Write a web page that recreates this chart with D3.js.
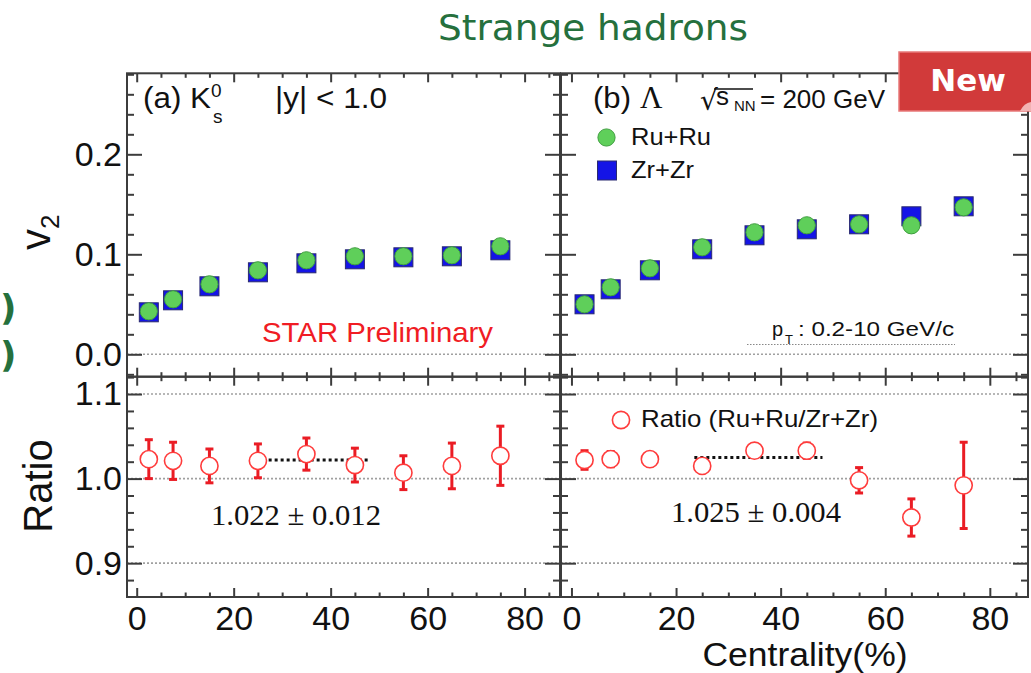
<!DOCTYPE html>
<html><head><meta charset="utf-8">
<script src="https://cdn.jsdelivr.net/npm/d3@7"></script>
<style>body{margin:0;background:#fff}svg{display:block}</style>
</head><body><svg id="c" width="1031" height="673" font-family="Liberation Sans, Arial, sans-serif"></svg>
<script>
// ---------------- data ----------------
const centrality = [2.5, 7.5, 15, 25, 35, 45, 55, 65, 75];
const k0sRuRu = [0.043, 0.055, 0.070, 0.084, 0.094, 0.098, 0.098, 0.099, 0.108];
const k0sZrZr = [0.042, 0.054, 0.068, 0.082, 0.091, 0.095, 0.097, 0.098, 0.104];
const k0sRatio = [1.023, 1.021, 1.015, 1.021, 1.029, 1.016, 1.007, 1.015, 1.027];
const k0sRatioErr = [0.023, 0.022, 0.020, 0.020, 0.019, 0.020, 0.020, 0.027, 0.035];
const lamRuRu = [0.050, 0.067, 0.086, 0.107, 0.122, 0.129, 0.130, 0.129, 0.147];
const lamZrZr = [0.050, 0.065, 0.084, 0.105, 0.119, 0.125, 0.130, 0.138, 0.148];
const lamRatio = [1.022, 1.023, 1.023, 1.015, 1.033, 1.033, 0.998, 0.954, 0.992];
const lamRatioErr = [0.011, 0.009, 0.004, 0.004, 0.004, 0.009, 0.015, 0.022, 0.051];
const fitValue = [1.022, 1.025];
const fitText = ["1.022 \u00B1 0.012", "1.025 \u00B1 0.004"];
const fitRange = [23.5, 48];
const xMajorTicks = [0, 20, 40, 60, 80];
const xMinorTicks = [5, 10, 15, 25, 30, 35, 45, 50, 55, 65, 70, 75, 85];
const v2MajorTicks = [0, 0.1, 0.2];
const v2MinorTicks = [-0.02, 0.02, 0.04, 0.06, 0.08, 0.12, 0.14, 0.16, 0.18, 0.22, 0.24, 0.26, 0.28];
const ratioMajorTicks = [0.9, 1.0, 1.1];
const ratioMinorTicks = [0.88, 0.92, 0.94, 0.96, 0.98, 1.02, 1.04, 1.06, 1.08, 1.12];
const ratioGrid = [0.9, 1.0, 1.1];

// ---------------- layout ----------------
const svg = d3.select("#c");
const frameColor = "#3c3c3c";
const xA = d3.scaleLinear().domain([-2, 87.3]).range([127, 560]);
const xB = d3.scaleLinear().domain([-2, 87.3]).range([561, 1028]);
const yV = d3.scaleLinear().domain([-0.0224, 0.281]).range([376.7, 73.3]);
const yR = d3.scaleLinear().domain([0.86, 1.1205]).range([597, 376.7]);

const panels = [
  {x: xA, ru: k0sRuRu, zr: k0sZrZr, r: k0sRatio, re: k0sRatioErr, labels: true, fit: 0},
  {x: xB, ru: lamRuRu, zr: lamZrZr, r: lamRatio, re: lamRatioErr, labels: false, fit: 1}
];

function styleAxis(g, fs) {
  g.select(".domain").remove();
  g.selectAll(".tick line").attr("stroke", frameColor).attr("stroke-width", 2);
  g.selectAll(".tick text").attr("font-size", fs || 33).attr("fill", "#111")
    .attr("font-family", "Liberation Sans, Arial, sans-serif");
}

panels.forEach(p => {
  const x = p.x, x0 = x.range()[0], x1 = x.range()[1];
  // grid lines
  svg.append("line").attr("x1", x0).attr("x2", x1).attr("y1", yV(0)).attr("y2", yV(0))
    .attr("stroke", "#a0a0a0").attr("stroke-width", 1.6).attr("stroke-dasharray", "2,2");
  ratioGrid.forEach(v => svg.append("line").attr("x1", x0).attr("x2", x1).attr("y1", yR(v)).attr("y2", yR(v))
    .attr("stroke", "#a0a0a0").attr("stroke-width", 1.6).attr("stroke-dasharray", "2,2"));

  // x axes (ticks inward)
  const xAxes = [
    {y: yV.range()[1], gen: d3.axisTop}, {y: yV.range()[0], gen: d3.axisBottom},
    {y: yR.range()[1], gen: d3.axisTop}, {y: yR.range()[0], gen: d3.axisBottom, labels: true}
  ];
  xAxes.forEach(a => {
    const gM = svg.append("g").attr("transform", `translate(0,${a.y})`)
      .call(a.gen(x).tickValues(xMajorTicks).tickSize(-9).tickPadding(9).tickFormat(a.labels ? d3.format("d") : ""));
    styleAxis(gM, 34);
    const gm = svg.append("g").attr("transform", `translate(0,${a.y})`)
      .call(a.gen(x).tickValues(xMinorTicks).tickSize(-4.5).tickFormat(""));
    styleAxis(gm);
  });

  // y axes
  [[yV, v2MajorTicks, v2MinorTicks, d3.format(".1f")], [yR, ratioMajorTicks, ratioMinorTicks, d3.format(".1f")]].forEach(([y, maj, mn, f]) => {
    const gl = svg.append("g").attr("transform", `translate(${x0},0)`)
      .call(d3.axisLeft(y).tickValues(maj).tickSize(-15).tickPadding(5).tickFormat(p.labels ? f : ""));
    styleAxis(gl, 34);
    styleAxis(svg.append("g").attr("transform", `translate(${x0},0)`)
      .call(d3.axisLeft(y).tickValues(mn).tickSize(-7).tickFormat("")));
    styleAxis(svg.append("g").attr("transform", `translate(${x1},0)`)
      .call(d3.axisRight(y).tickValues(maj).tickSize(-15).tickFormat("")));
    styleAxis(svg.append("g").attr("transform", `translate(${x1},0)`)
      .call(d3.axisRight(y).tickValues(mn).tickSize(-7).tickFormat("")));
  });

  // frames
  svg.append("rect").attr("x", x0).attr("y", yV.range()[1]).attr("width", x1 - x0)
    .attr("height", yV.range()[0] - yV.range()[1]).attr("fill", "none").attr("stroke", frameColor).attr("stroke-width", 2);
  svg.append("rect").attr("x", x0).attr("y", yR.range()[1]).attr("width", x1 - x0)
    .attr("height", yR.range()[0] - yR.range()[1]).attr("fill", "none").attr("stroke", frameColor).attr("stroke-width", 2);

  // v2 markers: Zr+Zr squares then Ru+Ru circles
  const sq = 19;
  svg.append("g").selectAll("rect").data(centrality).join("rect")
    .attr("x", (d) => x(d) - sq / 2).attr("y", (d, i) => yV(p.zr[i]) - sq / 2)
    .attr("width", sq).attr("height", sq).attr("fill", "#1414e6").attr("stroke", "#2a2a70").attr("stroke-width", 1);
  svg.append("g").selectAll("circle").data(centrality).join("circle")
    .attr("cx", d => x(d)).attr("cy", (d, i) => yV(p.ru[i])).attr("r", 8.6)
    .attr("fill", "#5fcf5a").attr("stroke", "#3e9e3e").attr("stroke-width", 1);

  // ratio fit line
  svg.append("line").attr("x1", x(fitRange[0])).attr("x2", x(fitRange[1]))
    .attr("y1", yR(fitValue[p.fit])).attr("y2", yR(fitValue[p.fit]))
    .attr("stroke", "#111").attr("stroke-width", 3).attr("stroke-dasharray", "3,3");

  // ratio error bars and markers
  const eb = svg.append("g");
  centrality.forEach((c, i) => {
    const cx = x(c), yt = yR(p.r[i] + p.re[i]), yb = yR(p.r[i] - p.re[i]);
    eb.append("line").attr("x1", cx).attr("x2", cx).attr("y1", yt).attr("y2", yb).attr("stroke", "#ea1c24").attr("stroke-width", 3);
    [yt, yb].forEach(yy => eb.append("line").attr("x1", cx - 4).attr("x2", cx + 4).attr("y1", yy).attr("y2", yy)
      .attr("stroke", "#ea1c24").attr("stroke-width", 3));
  });
  svg.append("g").selectAll("circle").data(centrality).join("circle")
    .attr("cx", d => x(d)).attr("cy", (d, i) => yR(p.r[i])).attr("r", 8.6)
    .attr("fill", "#fff").attr("stroke", "#ff3c3c").attr("stroke-width", 1.6);

  // fit result text
  svg.append("text").attr("x", p.fit === 0 ? 211 : 671).attr("y", p.fit === 0 ? 525 : 522)
    .attr("font-family", "Liberation Serif, Times New Roman, serif").attr("font-size", 30)
    .attr("fill", "#111").attr("textLength", 170).attr("lengthAdjust", "spacingAndGlyphs").text(fitText[p.fit]);
});

// ---------------- annotations ----------------
const T = (x, y, s, fs, opts = {}) => {
  const t = svg.append("text").attr("x", x).attr("y", y).attr("font-size", fs).attr("fill", opts.fill || "#111").text(s);
  if (opts.anchor) t.attr("text-anchor", opts.anchor);
  if (opts.family) t.attr("font-family", opts.family);
  if (opts.weight) t.attr("font-weight", opts.weight);
  if (opts.len) t.attr("textLength", opts.len).attr("lengthAdjust", "spacingAndGlyphs");
  return t;
};

// title
T(593, 40, "Strange hadrons", 35.5, {fill: "#25703d", family: "DejaVu Sans, sans-serif", anchor: "middle", len: 310});
// stray green brackets at left edge
T(0, 320, ")", 36, {fill: "#25703d", family: "DejaVu Sans, sans-serif", weight: "bold"});
T(0, 367, ")", 36, {fill: "#25703d", family: "DejaVu Sans, sans-serif", weight: "bold"});

// panel (a) label
T(143, 108, "(a) K", 30, {len: 68});
T(211, 97, "0", 19);
T(213, 123, "s", 19);
T(275, 108, "|y| < 1.0", 30, {len: 112});

// panel (b) label
T(593, 108, "(b)", 30, {len: 38});
T(640, 108, "\u039B", 31, {family: "Liberation Serif, serif"});
T(700, 110, "\u221A", 28, {family: "DejaVu Sans, sans-serif"});
svg.append("line").attr("x1", 714).attr("x2", 753).attr("y1", 89).attr("y2", 89).attr("stroke", "#111").attr("stroke-width", 1.5);
T(716, 105, "s", 26);
T(734, 111, "NN", 15);
T(760, 108, "= 200 GeV", 26, {len: 125});

// legend
svg.append("circle").attr("cx", 606.5).attr("cy", 137.5).attr("r", 8.6).attr("fill", "#5fcf5a").attr("stroke", "#3e9e3e");
T(631, 145, "Ru+Ru", 24, {len: 80});
svg.append("rect").attr("x", 597.5).attr("y", 161).attr("width", 19).attr("height", 19).attr("fill", "#1414e6").attr("stroke", "#2a2a70");
T(631, 178, "Zr+Zr", 24, {len: 63});

// STAR Preliminary
T(262, 342, "STAR Preliminary", 28, {fill: "#f01c24", len: 231});

// pT label
T(772, 336, "p", 20);
T(785, 344, "T", 13);
T(798, 336, ": 0.2-10 GeV/c", 20, {len: 156});
svg.append("line").attr("x1", 747).attr("x2", 955).attr("y1", 344.5).attr("y2", 344.5)
  .attr("stroke", "#888").attr("stroke-width", 1.2).attr("stroke-dasharray", "1.5,1.5");

// ratio legend
svg.append("circle").attr("cx", 621).attr("cy", 420).attr("r", 8.6).attr("fill", "#fff").attr("stroke", "#ff3c3c").attr("stroke-width", 1.6);
T(641, 427, "Ratio (Ru+Ru/Zr+Zr)", 24, {len: 237});

// axis titles
svg.append("text").attr("transform", "translate(52,486) rotate(-90)").attr("text-anchor", "middle")
  .attr("font-size", 40).attr("fill", "#111").text("Ratio");
const v2 = svg.append("text").attr("transform", "translate(50,250) rotate(-90)").attr("font-size", 42).attr("fill", "#111");
v2.append("tspan").text("v");
v2.append("tspan").attr("font-size", 26).attr("dy", 9).text("2");
T(805, 666, "Centrality(%)", 33, {anchor: "middle", len: 205});

// "New" badge
svg.append("rect").attr("x", 899).attr("y", 52).attr("width", 140).attr("height", 59)
  .attr("fill", "#d13a3a").attr("stroke", "#e87a7a").attr("stroke-width", 1.5);
svg.append("path").attr("d", "M1020,111 Q1024,103 1031,102 L1031,111 Z").attr("fill", "#f2b3b3");
T(968, 91, "New", 31, {fill: "#fff", family: "DejaVu Sans, sans-serif", weight: "bold", anchor: "middle"});
</script></body></html>
